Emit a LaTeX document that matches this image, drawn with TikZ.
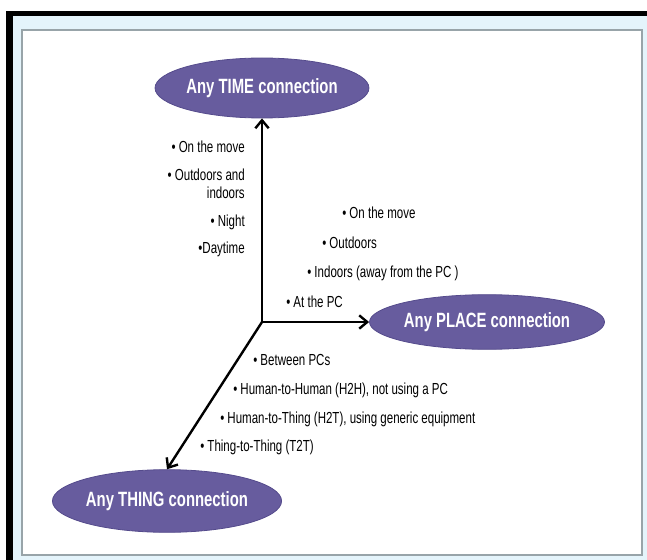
\documentclass[tikz,border=0pt]{standalone}
\usepackage{fontspec}
\setmainfont{Liberation Sans}[FakeStretch=0.72]
\usetikzlibrary{arrows.meta,shapes.geometric}
\definecolor{connfill}{HTML}{675C9E}
\definecolor{connline}{HTML}{554B8C}
\definecolor{panelblue}{HTML}{E4F4FB}
\definecolor{framegray}{HTML}{98A4A9}
\begin{document}
\begin{tikzpicture}[x=0.75pt,y=-0.75pt,
    conn/.style={ellipse,draw=connline,line width=0.6pt,fill=connfill,text=white,
      font=\bfseries\fontsize{15.5}{18}\selectfont,minimum width=155pt,inner sep=0},
    item/.style={inner sep=0,font=\fontsize{12}{13.5}\selectfont},
    axis/.style={line width=1.8pt,-{Straight Barb[length=6pt,width=10pt]}}]
    % frame
    \fill[white] (0,0) rectangle (647,560);
    \fill[black] (6,11) rectangle (647,16);
    \fill[black] (6,11) rectangle (13,560);
    \fill[panelblue] (13,16) rectangle (647,560);
    \draw[framegray,line width=1.5pt,fill=white] (22,30) rectangle (642,555);

    \node[conn,minimum height=45pt] (time) at (262,88) {Any TIME connection};
    \node[conn,minimum height=41pt] (place) at (487,322) {Any PLACE connection};
    \node[conn,minimum height=47pt] (thing) at (167,501) {Any THING connection};

    \coordinate (o) at (262,322);
    \draw[axis] (o) -- (time);
    \draw[axis] (o) -- (place);
    \draw[axis] (o) -- (thing.north);

    % time list
    \node[item,anchor=east] (t1) at (245,147) {• On the move};
    \node[item,anchor=east,align=right] (t2) at (245,184) {• Outdoors and\\indoors};
    \node[item,anchor=east] (t3) at (245,222) {• Night};
    \node[item,anchor=east] (t4) at (245,249) {•Daytime};

    % place list
    \foreach \x/\y/\txt [count=\i] in {342/213/{• On the move}, 322/243/{• Outdoors},
        307/273/{• Indoors (away from the PC )}, 286/302/{• At the PC}} {
      \node[item,anchor=west] (p\i) at (\x,\y) {\txt};
    }

    % thing list
    \foreach \x/\y/\txt [count=\i] in {253/360/{• Between PCs},
        233/390/{• Human-to-Human (H2H), not using a PC},
        220/419/{• Human-to-Thing (H2T), using generic equipment},
        200/447/{• Thing-to-Thing (T2T)}} {
      \node[item,anchor=west] (h\i) at (\x,\y) {\txt};
    }
  \end{tikzpicture}
\end{document}
